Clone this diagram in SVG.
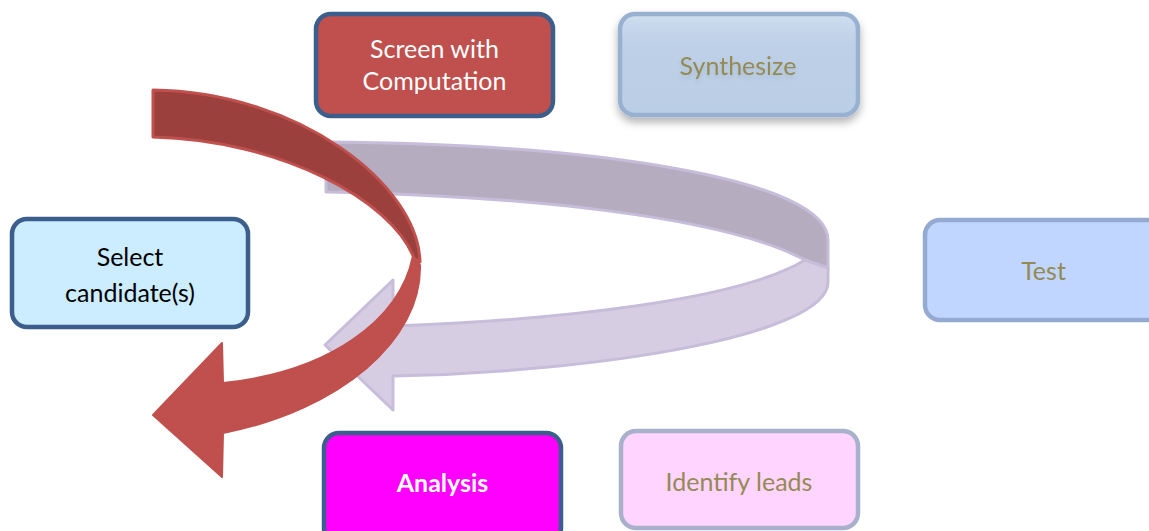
<svg xmlns="http://www.w3.org/2000/svg" width="1149" height="531" viewBox="0 0 1149 531">
<style>
.box{stroke-width:4.5}
.dark{stroke:#3B5E8C}
.t{font-family:Lato,"Liberation Sans",sans-serif;font-size:25px;text-anchor:middle}
.olive{fill:#948A54}
.pband{stroke:#C7BDDA;stroke-width:3;stroke-linejoin:round}
</style>
<defs>
<linearGradient id="synG" x1="0" y1="0" x2="0" y2="1">
<stop offset="0" stop-color="#CFDDEF"/>
<stop offset="0.3" stop-color="#BDD0E7"/>
<stop offset="1" stop-color="#BACEE5"/>
</linearGradient>
<filter id="sh" x="-10%" y="-10%" width="120%" height="135%">
<feDropShadow dx="0" dy="5" stdDeviation="4" flood-color="#000" flood-opacity="0.3"/>
</filter>
<filter id="tsh" x="-10%" y="-20%" width="120%" height="160%">
<feDropShadow dx="0" dy="3" stdDeviation="2" flood-color="#000" flood-opacity="0.1"/>
</filter>
</defs>
<rect width="1149" height="531" fill="#FFFFFF"/>

<g id="connectors">
<g id="purple-cycle-arrow">
<path class="pband" fill="#B5ADBF" d="M326,142 C600,144 828,180 828,240 L828,268 L805,260 C720,215 520,196 326,192 Z"/>
<path class="pband" fill="#D6CDE2" d="M805,260 L828,268 L828,282 C828,335 600,372 393,376 L393,410 L325,345 L393,280 L393,326 C560,320 740,300 805,260 Z"/>
</g>
<g id="red-arrow">
<path fill="#9B403D" stroke="#C0504D" stroke-width="3" stroke-linejoin="round" d="M153,90 C300,92 418,185 420,262 L414,258 C392,200 280,140 153,137 Z"/>
<path fill="#C0504D" stroke="#C0504D" stroke-width="2" stroke-linejoin="round" d="M413,256 L420,265 C422,340 340,410 223,433 L222,477 L153,415 L222,343 L223,383 C330,372 400,320 413,256 Z"/>
</g>
</g>

<g id="node-screen">
<rect class="box dark" x="316" y="14" width="237" height="102" rx="15" fill="#C0504D"/>
<text class="t" x="434.5" y="58" fill="#FFFFFF">Screen with</text>
<text class="t" x="434.5" y="90" fill="#FFFFFF">Computation</text>
</g>

<g id="node-synthesize">
<rect x="620" y="14" width="238" height="101" rx="15" fill="url(#synG)" stroke="#98B1D1" stroke-width="4.5" filter="url(#sh)"/>
<text class="t olive" x="738" y="75" filter="url(#tsh)">Synthesize</text>
</g>

<g id="node-select">
<rect class="box dark" x="12" y="219" width="236" height="108" rx="15" fill="#CCECFF"/>
<text class="t" x="130" y="266" fill="#000000">Select</text>
<text class="t" x="130" y="302" fill="#000000">candidate(s)</text>
</g>

<g id="node-test">
<rect x="925" y="220" width="238" height="100" rx="15" fill="#C1D6FF" stroke="#95AAD0" stroke-width="4.5"/>
<text class="t olive" x="1043.5" y="280">Test</text>
</g>

<g id="node-analysis">
<rect class="box dark" x="324" y="433" width="237" height="110" rx="15" fill="#FF00FF"/>
<text class="t" x="442.5" y="492" fill="#FFFFFF" font-weight="bold">Analysis</text>
</g>

<g id="node-identify">
<rect x="621" y="431" width="237" height="97" rx="15" fill="#FFD5FF" stroke="#A9B0CC" stroke-width="4.5"/>
<text class="t olive" x="739" y="491">Identify leads</text>
</g>
</svg>
